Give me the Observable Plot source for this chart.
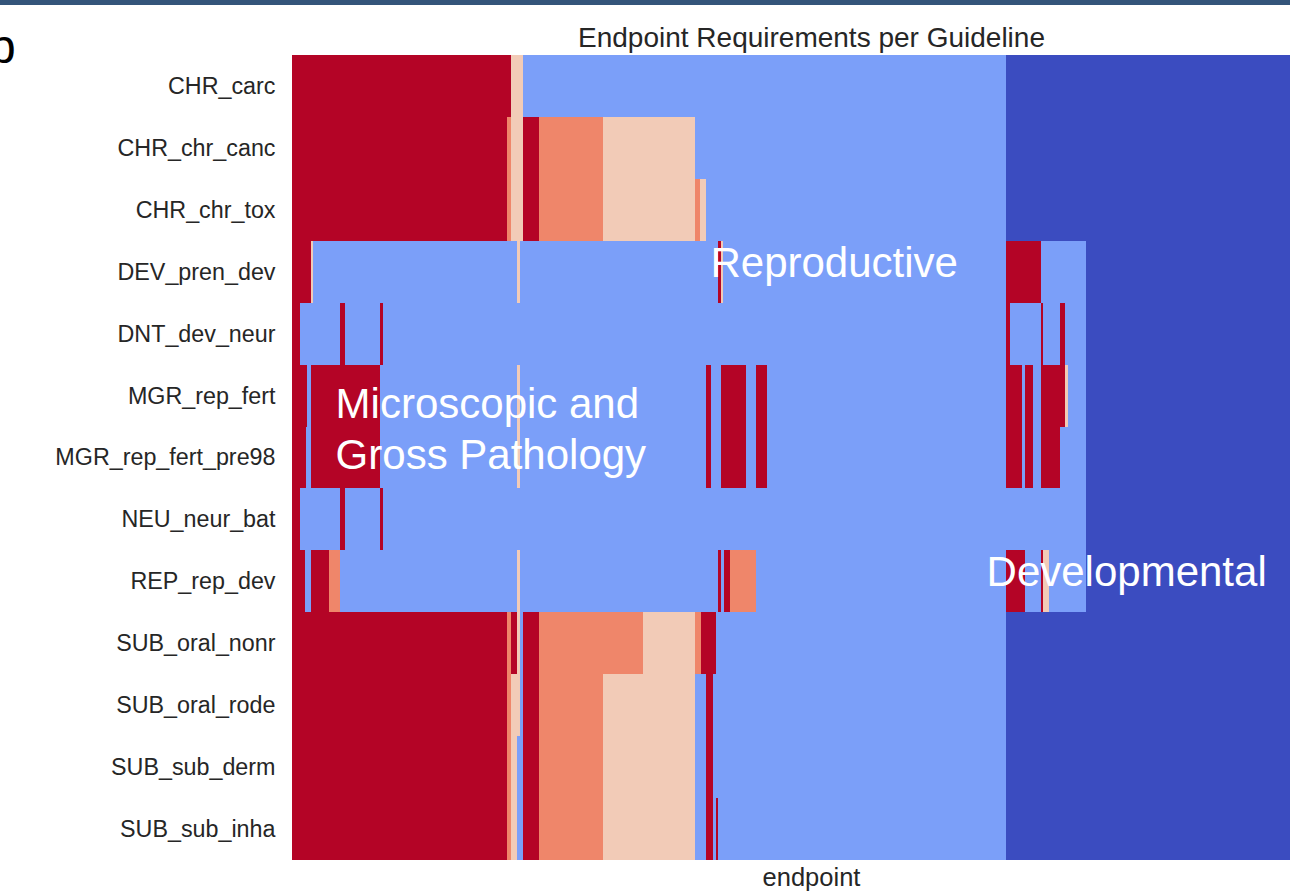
<!DOCTYPE html>
<html>
<head>
<meta charset="utf-8">
<script src="https://cdn.jsdelivr.net/npm/d3@7"></script>
<script src="https://cdn.jsdelivr.net/npm/@observablehq/plot@0.6"></script>
<style>
  html, body { margin: 0; padding: 0; width: 1290px; height: 891px; overflow: hidden; background: #fff; position: relative; }
  .topbar { position: absolute; left: 0; top: 0; width: 1290px; height: 5px; background: #34557a; }
  .txt { position: absolute; font-family: "Liberation Sans", Arial, sans-serif; line-height: 1; white-space: nowrap; color: #262626; }
  #chart { position: absolute; left: 0; top: 55px; width: 1331px; }
  #chart svg { max-width: none !important; display: block; }
</style>
</head>
<body>
<div class="topbar"></div>
<div class="txt" style="left:-11px; top:23px; font-size:48px; color:#000;">b</div>
<div class="txt" id="title" style="left:292px; width:1039px; text-align:center; top:24px; font-size:28px;">Endpoint Requirements per Guideline</div>
<div class="txt" id="xlabel" style="left:292px; width:1039px; text-align:center; top:865px; font-size:25.5px;">endpoint</div>
<div id="chart"></div>
<script>
// Guidelines (rows)
const guidelines = [
  "CHR_carc", "CHR_chr_canc", "CHR_chr_tox", "DEV_pren_dev", "DNT_dev_neur",
  "MGR_rep_fert", "MGR_rep_fert_pre98", "NEU_neur_bat", "REP_rep_dev",
  "SUB_oral_nonr", "SUB_oral_rode", "SUB_sub_derm", "SUB_sub_inha"
];
// Number of endpoint columns on the x axis
const endpointCount = 400;
// Requirement levels: 0 = not listed, 1 = not required, 2 = low, 3 = medium, 4 = required
const levelNames = [0, 1, 2, 3, 4];
const levelColors = ["#3b4cc0", "#7b9ff9", "#f2cbb7", "#ef866a", "#b40426"];

// Runs of endpoints per guideline: [startIndex, endIndex, level]
const CHR_carc = [[0,84.5,4],[84.5,88.8,2],[88.8,274.7,1],[274.7,400,0]];
const CHR_chr_canc = [[0,82.6,4],[82.6,84.5,3],[84.5,88.8,2],[88.8,95,4],[95,119.8,3],[119.8,155.1,2],[155.1,274.7,1],[274.7,400,0]];
const CHR_chr_tox = [[0,82.6,4],[82.6,84.5,3],[84.5,88.8,2],[88.8,95,4],[95,119.8,3],[119.8,155.1,2],[155.1,157,3],[157,159.2,2],[159.2,274.7,1],[274.7,400,0]];
const DEV_pren_dev = [[0,7.2,4],[7.2,8.2,2],[8.2,86.8,1],[86.8,87.7,2],[87.7,164.1,1],[164.1,165.1,4],[165.1,166,2],[166,274.7,1],[274.7,288.2,4],[288.2,305.8,1],[305.8,400,0]];
const DNT_dev_neur = [[0,3,4],[3,18.5,1],[18.5,20.4,4],[20.4,33.9,1],[33.9,34.9,4],[34.9,274.7,1],[274.7,276.6,4],[276.6,288.2,1],[288.2,289.3,4],[289.3,295.6,1],[295.6,297.7,4],[297.7,305.8,1],[305.8,400,0]];
const MGR_rep_fert = [[0,5.9,4],[5.9,7.2,1],[7.2,33.9,4],[33.9,86.8,1],[86.8,87.7,2],[87.7,159.2,1],[159.2,161.2,4],[161.2,165.2,1],[165.2,174.6,4],[174.6,178.6,1],[178.6,183,4],[183,274.7,1],[274.7,281.1,4],[281.1,282.1,1],[282.1,285.2,4],[285.2,288.2,1],[288.2,297.7,4],[297.7,298.7,2],[298.7,305.8,1],[305.8,400,0]];
const MGR_rep_fert_pre98 = [[0,5.4,4],[5.4,7.2,1],[7.2,33.9,4],[33.9,86.8,1],[86.8,87.7,2],[87.7,159.2,1],[159.2,161.2,4],[161.2,165.2,1],[165.2,174.6,4],[174.6,178.6,1],[178.6,183,4],[183,274.7,1],[274.7,281.1,4],[281.1,282.1,1],[282.1,285.2,4],[285.2,288.2,1],[288.2,295.6,4],[295.6,305.8,1],[305.8,400,0]];
const NEU_neur_bat = [[0,3,4],[3,18.5,1],[18.5,20.4,4],[20.4,33.9,1],[33.9,34.9,4],[34.9,305.8,1],[305.8,400,0]];
const REP_rep_dev = [[0,5,4],[5,7.2,1],[7.2,14.4,4],[14.4,18.5,3],[18.5,86.8,1],[86.8,87.7,2],[87.7,164.1,1],[164.1,165.2,4],[165.2,166.2,1],[166.2,168.5,4],[168.5,178.6,3],[178.6,274.7,1],[274.7,282.1,4],[282.1,288.2,1],[288.2,289.3,4],[289.3,291.3,2],[291.3,305.8,1],[305.8,400,0]];
const SUB_oral_nonr = [[0,82.6,4],[82.6,84.5,3],[84.5,86.8,4],[86.8,87.7,2],[87.7,88.8,1],[88.8,95,4],[95,135.2,3],[135.2,155.1,2],[155.1,157.3,3],[157.3,163.1,4],[163.1,274.7,1],[274.7,400,0]];
const SUB_oral_rode = [[0,82.6,4],[82.6,84.5,3],[84.5,87.7,2],[87.7,88.8,1],[88.8,95,4],[95,119.8,3],[119.8,155.1,2],[155.1,159.2,1],[159.2,162.1,4],[162.1,274.7,1],[274.7,400,0]];
const SUB_sub_derm = [[0,82.6,4],[82.6,84.5,3],[84.5,86.8,2],[86.8,88.8,1],[88.8,95,4],[95,119.8,3],[119.8,155.1,2],[155.1,159.2,1],[159.2,162.1,4],[162.1,274.7,1],[274.7,400,0]];
const SUB_sub_inha = [[0,82.6,4],[82.6,84.5,3],[84.5,86.8,2],[86.8,88.8,1],[88.8,95,4],[95,119.8,3],[119.8,155.1,2],[155.1,159.2,1],[159.2,162.1,4],[162.1,163.1,1],[163.1,164.1,4],[164.1,274.7,1],[274.7,400,0]];

const rowRuns = [CHR_carc, CHR_chr_canc, CHR_chr_tox, DEV_pren_dev, DNT_dev_neur, MGR_rep_fert,
  MGR_rep_fert_pre98, NEU_neur_bat, REP_rep_dev, SUB_oral_nonr, SUB_oral_rode, SUB_sub_derm, SUB_sub_inha];

// Category annotation labels and their anchor (endpoint index, guideline row)
const annotationLabels = ["Reproductive", "Microscopic and\nGross Pathology", "Developmental"];
const annotationX = [160.9, 16.6, 267.2];
const annotationRows = ["DEV_pren_dev", "MGR_rep_fert", "REP_rep_dev"];

const cells = [];
guidelines.forEach((g, i) => {
  rowRuns[i].forEach(([x1, x2, level]) => cells.push({guideline: g, x1, x2, level}));
});

const textStyle = {fill: "white", fontSize: 42, textAnchor: "start", lineHeight: 1.214, fontFamily: "'Liberation Sans', Arial, sans-serif"};
const annot = (i, dy) => Plot.text([i], {x: d => annotationX[d], y: d => annotationRows[d], text: d => annotationLabels[d], dy, ...textStyle});

const chart = Plot.plot({
  width: 1331,
  height: 836,
  marginTop: 0,
  marginBottom: 31,
  marginLeft: 292,
  marginRight: 0,
  style: {fontFamily: "'Liberation Sans', Arial, sans-serif", fontSize: "23.3px", color: "#262626", background: "transparent", overflow: "visible", maxWidth: "none"},
  x: {domain: [0, endpointCount], axis: null},
  y: {domain: guidelines, padding: 0, round: false, label: null, tickSize: 0, tickPadding: 17},
  color: {type: "ordinal", domain: levelNames, range: levelColors},
  marks: [
    Plot.barX(cells, {x1: "x1", x2: "x2", y: "guideline", fill: "level", inset: 0, shapeRendering: "crispEdges"}),
    annot(0, -12),
    annot(1, 31),
    annot(2, -12)
  ]
});
document.getElementById("chart").appendChild(chart);
</script>
</body>
</html>
